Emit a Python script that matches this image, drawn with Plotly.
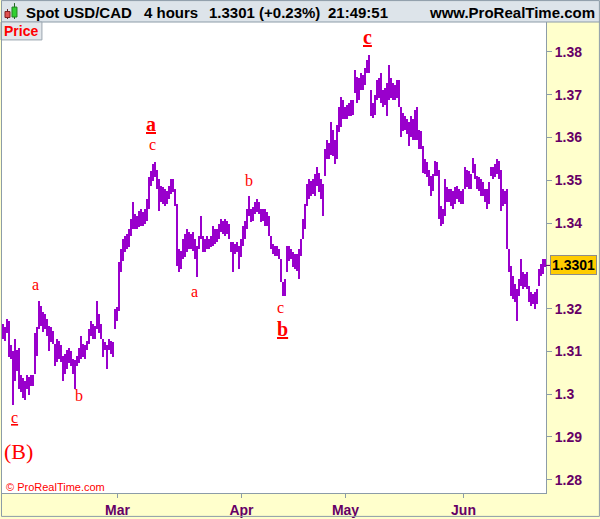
import plotly.graph_objects as go

# ---------------- data ----------------
highs = [
    1.3165, 1.3158, 1.3176, 1.3172, 1.3114, 1.3102, 1.3130, 1.3104, 1.3107, 1.3044,
    1.3037, 1.3030, 1.3044, 1.3041, 1.3044, 1.3046, 1.3142, 1.3158, 1.3218, 1.3207,
    1.3193, 1.3188, 1.3176, 1.3160, 1.3158, 1.3148, 1.3118, 1.3130, 1.3125, 1.3114,
    1.3090, 1.3095, 1.3104, 1.3107, 1.3102, 1.3083, 1.3079, 1.3090, 1.3107, 1.3135,
    1.3118, 1.3114, 1.3125, 1.3153, 1.3172, 1.3165, 1.3160, 1.3218, 1.3188, 1.3165,
    1.3130, 1.3123, 1.3114, 1.3130, 1.3125, 1.3123, 1.3200, 1.3204, 1.3309, 1.3339,
    1.3363, 1.3370, 1.3374, 1.3386, 1.3409, 1.3449, 1.3421, 1.3416, 1.3428, 1.3432,
    1.3425, 1.3432, 1.3456, 1.3507, 1.3521, 1.3537, 1.3542, 1.3525, 1.3502, 1.3486,
    1.3484, 1.3479, 1.3474, 1.3486, 1.3502, 1.3502, 1.3479, 1.3444, 1.3339, 1.3335,
    1.3363, 1.3374, 1.3386, 1.3379, 1.3374, 1.3379, 1.3363, 1.3346, 1.3370, 1.3416,
    1.3370, 1.3363, 1.3370, 1.3363, 1.3370, 1.3393, 1.3386, 1.3386, 1.3398, 1.3409,
    1.3404, 1.3409, 1.3404, 1.3398, 1.3356, 1.3356, 1.3351, 1.3356, 1.3346, 1.3363,
    1.3393, 1.3404, 1.3432, 1.3463, 1.3432, 1.3437, 1.3449, 1.3456, 1.3449, 1.3432,
    1.3432, 1.3432, 1.3425, 1.3416, 1.3370, 1.3351, 1.3346, 1.3346, 1.3339, 1.3316,
    1.3262, 1.3269, 1.3346, 1.3346, 1.3339, 1.3332, 1.3328, 1.3328, 1.3339, 1.3363,
    1.3409, 1.3444, 1.3491, 1.3502, 1.3498, 1.3502, 1.3514, 1.3532, 1.3518, 1.3502,
    1.3491, 1.3572, 1.3595, 1.3588, 1.3635, 1.3618, 1.3595, 1.3630, 1.3672, 1.3695,
    1.3688, 1.3672, 1.3677, 1.3681, 1.3688, 1.3688, 1.3758, 1.3742, 1.3740, 1.3751,
    1.3747, 1.3763, 1.3781, 1.3793, 1.3712, 1.3681, 1.3700, 1.3735, 1.3740, 1.3751,
    1.3712, 1.3716, 1.3728, 1.3770, 1.3740, 1.3728, 1.3723, 1.3735, 1.3735, 1.3672,
    1.3658, 1.3649, 1.3642, 1.3635, 1.3649, 1.3642, 1.3665, 1.3672, 1.3618, 1.3614,
    1.3579, 1.3549, 1.3542, 1.3525, 1.3509, 1.3514, 1.3544, 1.3542, 1.3525, 1.3439,
    1.3432, 1.3502, 1.3484, 1.3479, 1.3479, 1.3474, 1.3484, 1.3486, 1.3479, 1.3474,
    1.3479, 1.3530, 1.3525, 1.3521, 1.3514, 1.3553, 1.3537, 1.3509, 1.3507, 1.3502,
    1.3495, 1.3479, 1.3479, 1.3495, 1.3532, 1.3530, 1.3537, 1.3549, 1.3544, 1.3525,
    1.3479, 1.3474, 1.3479, 1.3339, 1.3300, 1.3276, 1.3258, 1.3246, 1.3269, 1.3316,
    1.3286, 1.3281, 1.3286, 1.3253, 1.3239, 1.3235, 1.3239, 1.3246, 1.3293, 1.3304,
    1.3316, 1.3316,
]
lows = [
    1.3130, 1.3125, 1.3142, 1.3088, 1.3083, 1.2974, 1.3030, 1.3055, 1.3013, 1.3006,
    1.2990, 1.2986, 1.3013, 1.2997, 1.3020, 1.3018, 1.3048, 1.3090, 1.3153, 1.3160,
    1.3146, 1.3153, 1.3137, 1.3102, 1.3123, 1.3118, 1.3067, 1.3076, 1.3083, 1.3076,
    1.3032, 1.3048, 1.3060, 1.3072, 1.3067, 1.3048, 1.3013, 1.3065, 1.3072, 1.3083,
    1.3088, 1.3083, 1.3104, 1.3118, 1.3135, 1.3130, 1.3130, 1.3153, 1.3142, 1.3130,
    1.3088, 1.3104, 1.3060, 1.3104, 1.3095, 1.3088, 1.3153, 1.3172, 1.3195, 1.3286,
    1.3311, 1.3332, 1.3339, 1.3344, 1.3370, 1.3386, 1.3386, 1.3386, 1.3391, 1.3393,
    1.3393, 1.3398, 1.3404, 1.3432, 1.3486, 1.3498, 1.3507, 1.3479, 1.3428, 1.3449,
    1.3444, 1.3440, 1.3444, 1.3456, 1.3467, 1.3472, 1.3440, 1.3300, 1.3286, 1.3293,
    1.3316, 1.3320, 1.3332, 1.3339, 1.3339, 1.3335, 1.3316, 1.3274, 1.3339, 1.3363,
    1.3332, 1.3332, 1.3339, 1.3339, 1.3344, 1.3346, 1.3351, 1.3356, 1.3363, 1.3379,
    1.3374, 1.3370, 1.3374, 1.3363, 1.3332, 1.3286, 1.3328, 1.3332, 1.3293, 1.3320,
    1.3346, 1.3363, 1.3386, 1.3416, 1.3402, 1.3404, 1.3421, 1.3425, 1.3421, 1.3402,
    1.3404, 1.3393, 1.3393, 1.3370, 1.3339, 1.3328, 1.3323, 1.3323, 1.3316, 1.3262,
    1.3230, 1.3230, 1.3286, 1.3311, 1.3316, 1.3297, 1.3293, 1.3288, 1.3269, 1.3323,
    1.3363, 1.3386, 1.3440, 1.3456, 1.3463, 1.3467, 1.3463, 1.3486, 1.3472, 1.3456,
    1.3416, 1.3509, 1.3549, 1.3549, 1.3560, 1.3556, 1.3537, 1.3549, 1.3612, 1.3625,
    1.3642, 1.3642, 1.3642, 1.3649, 1.3649, 1.3653, 1.3705, 1.3681, 1.3688, 1.3712,
    1.3712, 1.3723, 1.3751, 1.3751, 1.3649, 1.3646, 1.3653, 1.3688, 1.3693, 1.3681,
    1.3672, 1.3677, 1.3649, 1.3688, 1.3693, 1.3688, 1.3688, 1.3693, 1.3672, 1.3602,
    1.3614, 1.3618, 1.3607, 1.3579, 1.3602, 1.3595, 1.3595, 1.3595, 1.3572, 1.3572,
    1.3518, 1.3514, 1.3507, 1.3486, 1.3463, 1.3474, 1.3509, 1.3509, 1.3409, 1.3393,
    1.3398, 1.3416, 1.3449, 1.3449, 1.3440, 1.3432, 1.3444, 1.3456, 1.3449, 1.3444,
    1.3444, 1.3479, 1.3484, 1.3479, 1.3479, 1.3518, 1.3502, 1.3479, 1.3474, 1.3463,
    1.3463, 1.3449, 1.3432, 1.3444, 1.3509, 1.3502, 1.3507, 1.3514, 1.3502, 1.3428,
    1.3440, 1.3444, 1.3339, 1.3286, 1.3230, 1.3223, 1.3216, 1.3172, 1.3230, 1.3253,
    1.3246, 1.3251, 1.3246, 1.3216, 1.3207, 1.3211, 1.3200, 1.3211, 1.3253, 1.3276,
    1.3281, 1.3297,
]
last_close = 1.3301
change_pct = 0.23
clock_text = "21:49:51"
instrument = "Spot USD/CAD"
timeframe = "4 hours"
month_labels = ["Mar", "Apr", "May", "Jun"]
month_start_bar = [58, 120, 172, 231]
y_tick_vals = [1.28, 1.29, 1.30, 1.31, 1.32, 1.33, 1.34, 1.35, 1.36, 1.37, 1.38]
y_tick_labels = ["1.28", "1.29", "1.3", "1.31", "1.32", "", "1.34", "1.35", "1.36", "1.37", "1.38"]

# ---------------- layout geometry ----------------
W, H = 600, 519
ML, MR, MT, MB = 1, 54, 22, 24
PW = W - ML - MR
PH = H - MT - MB
PURPLE = "#9900CC"
AXIS_TXT = "#660066"
GRAY = "#8C9CA8"
SANS = "Liberation Sans, Arial, sans-serif"
SERIF = "Liberation Serif, Times New Roman, serif"


def px(x):
    return (x - ML) / PW


def py(y):
    return (H - MB - y) / PH


n = len(highs)
idx = list(range(n))

fig = go.Figure()
fig.add_trace(go.Bar(
    x=idx,
    y=[h - l for h, l in zip(highs, lows)],
    base=lows,
    width=1.0,
    marker=dict(color=PURPLE, line=dict(width=0)),
    hoverinfo="skip",
    showlegend=False,
))

shapes = []
annotations = []

# header bar
shapes.append(dict(type="rect", xref="paper", yref="paper", x0=px(0), x1=px(W), y0=py(MT), y1=py(0),
                   fillcolor="#DDE4EA", line=dict(width=0), layer="above"))
shapes.append(dict(type="line", xref="paper", yref="paper", x0=px(0), x1=px(W), y0=py(MT), y1=py(MT),
                   line=dict(color=GRAY, width=1), layer="above"))
# candle icon in header
shapes.append(dict(type="line", xref="paper", yref="paper", x0=px(6.5), x1=px(6.5), y0=py(19), y1=py(9),
                   line=dict(color="#602020", width=1), layer="above"))
shapes.append(dict(type="rect", xref="paper", yref="paper", x0=px(4), x1=px(9), y0=py(17.5), y1=py(11.5),
                   fillcolor="#E05050", line=dict(color="#802020", width=1), layer="above"))
shapes.append(dict(type="line", xref="paper", yref="paper", x0=px(13.5), x1=px(13.5), y0=py(19), y1=py(3),
                   line=dict(color="#206020", width=1), layer="above"))
shapes.append(dict(type="rect", xref="paper", yref="paper", x0=px(11), x1=px(16), y0=py(17), y1=py(7),
                   fillcolor="#30D030", line=dict(color="#208020", width=1), layer="above"))

hdr_font = dict(family=SANS, size=15, color="black", weight="bold")
for txt, xpos in [(instrument, 23), (timeframe, 141),
                  (f"{last_close:.4f} (+{change_pct:.2f}%)", 206), (clock_text, 326)]:
    annotations.append(dict(xref="paper", yref="paper", x=px(xpos), y=py(12), text=txt,
                            xanchor="left", yanchor="middle", showarrow=False, font=hdr_font))
annotations.append(dict(xref="paper", yref="paper", x=px(597), y=py(12), text="www.ProRealTime.com",
                        xanchor="right", yanchor="middle", showarrow=False, font=hdr_font))

# "Price" tab
shapes.append(dict(type="rect", xref="paper", yref="paper", x0=px(0), x1=px(41), y0=py(40), y1=py(MT),
                   fillcolor="#E2E7EB", line=dict(color="#9AA6B0", width=1), layer="above"))
annotations.append(dict(xref="paper", yref="paper", x=px(20.5), y=py(31), text="Price",
                        xanchor="center", yanchor="middle", showarrow=False,
                        font=dict(family=SANS, size=14, color="#FF0000", weight="bold")))

# copyright
annotations.append(dict(xref="paper", yref="paper", x=px(3), y=py(489), text="© ProRealTime.com",
                        xanchor="left", yanchor="middle", showarrow=False,
                        font=dict(family=SANS, size=11, color="#FF0000")))

# last price marker
shapes.append(dict(type="line", xref="paper", yref="y", x0=1.0, x1=px(551), y0=last_close, y1=last_close,
                   line=dict(color=AXIS_TXT, width=1), layer="above"))
annotations.append(dict(xref="paper", yref="y", x=px(550), y=last_close, text=f"<b>{last_close:.4f}</b>",
                        xanchor="left", yanchor="middle", showarrow=False,
                        font=dict(family=SANS, size=14, color="black"),
                        bgcolor="#FFCC00", bordercolor="#8C8C8C", borderwidth=1, borderpad=1))

# Elliott wave labels
wave_labels = [
    ("<b><u>c</u></b>", 367, 37, 20),
    ("<b><u>a</u></b>", 150, 124, 20),
    ("<b><u>b</u></b>", 282, 330, 20),
    ("c", 152, 145, 16),
    ("a", 35, 286, 16),
    ("b", 78, 397, 16),
    ("<u>c</u>", 14, 419, 16),
    ("b", 248, 181, 16),
    ("a", 194, 293, 16),
    ("c", 280, 309, 16),
    ("(B)", 18, 453, 22),
]
for txt, xx, yy, sz in wave_labels:
    annotations.append(dict(xref="paper", yref="paper", x=px(xx), y=py(yy), text=txt,
                            xanchor="center", yanchor="middle", showarrow=False,
                            font=dict(family=SERIF, size=sz, color="#FF0000")))

# outer border
shapes.append(dict(type="rect", xref="paper", yref="paper", x0=px(0.5), x1=px(W - 0.5), y0=py(H - 0.5), y1=py(0.5),
                   line=dict(color=GRAY, width=1), fillcolor="rgba(0,0,0,0)", layer="above"))

tick_font = dict(family=SANS, size=14, color=AXIS_TXT, weight="bold")
fig.update_layout(
    width=W, height=H,
    margin=dict(l=ML, r=MR, t=MT, b=MB, pad=0),
    paper_bgcolor="#FFFFCC",
    plot_bgcolor="white",
    bargap=0,
    showlegend=False,
    shapes=shapes,
    annotations=annotations,
    xaxis=dict(
        range=[-0.25, n - 0.25],
        tickvals=[s - 0.5 for s in month_start_bar],
        ticktext=month_labels,
        ticks="outside", ticklen=4, tickcolor=GRAY,
        tickfont=tick_font,
        showgrid=False, zeroline=False,
        showline=True, linecolor=GRAY, linewidth=1, mirror=True,
        fixedrange=True,
    ),
    yaxis=dict(
        side="right",
        range=[1.27691, 1.38698],
        tickvals=y_tick_vals,
        ticktext=y_tick_labels,
        ticks="outside", ticklen=5, tickcolor=GRAY,
        tickfont=tick_font,
        showgrid=False, zeroline=False,
        showline=True, linecolor=GRAY, linewidth=1, mirror=True,
        fixedrange=True,
    ),
)

page_css = ("document.body.style.margin='0';document.body.style.padding='0';"
            "document.documentElement.style.overflow='hidden';")
fig.write_html("out.html", config={"displayModeBar": False}, post_script=page_css)
